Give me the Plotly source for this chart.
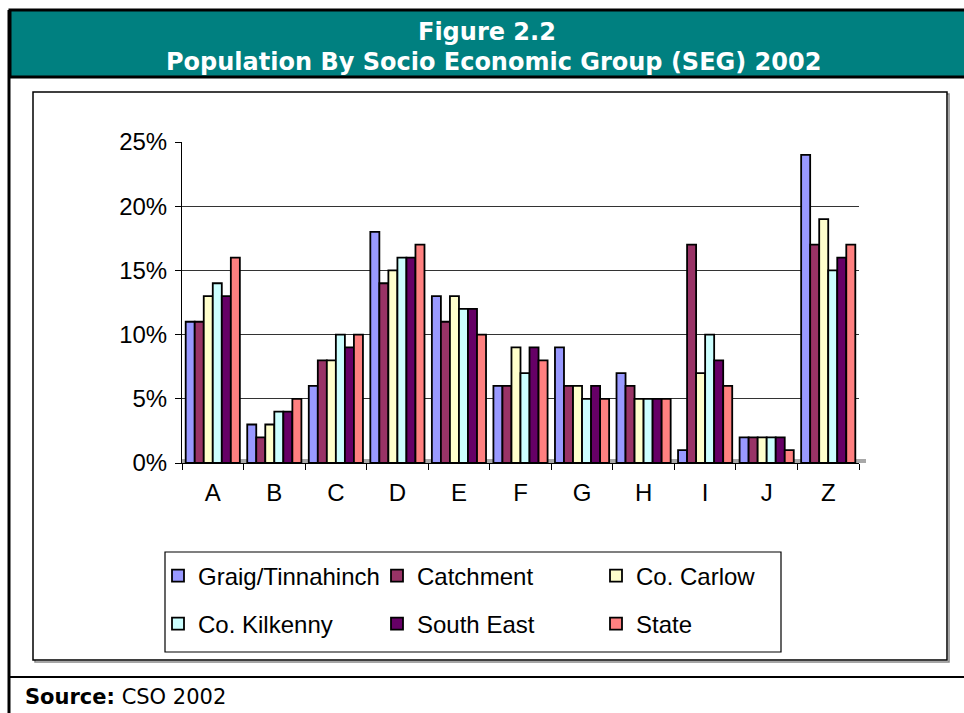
import plotly.graph_objects as go

categories = ["A", "B", "C", "D", "E", "F", "G", "H", "I", "J", "Z"]
graig = [11, 3, 6, 18, 13, 6, 9, 7, 1, 2, 24]
catchment = [11, 2, 8, 14, 11, 6, 6, 6, 17, 2, 17]
carlow = [13, 3, 8, 15, 13, 9, 6, 5, 7, 2, 19]
kilkenny = [14, 4, 10, 16, 12, 7, 5, 5, 10, 2, 15]
south_east = [13, 4, 9, 16, 12, 9, 6, 5, 8, 2, 16]
state = [16, 5, 10, 17, 10, 8, 5, 5, 6, 1, 17]
y_ticks = [0, 5, 10, 15, 20, 25]
y_tick_labels = ["0%", "5%", "10%", "15%", "20%", "25%"]

series = [
    ("Graig/Tinnahinch", graig, "#9999FF", "legend"),
    ("Catchment", catchment, "#993366", "legend"),
    ("Co. Carlow", carlow, "#FFFFCC", "legend"),
    ("Co. Kilkenny", kilkenny, "#CCFFFF", "legend2"),
    ("South East", south_east, "#660066", "legend2"),
    ("State", state, "#FF8080", "legend2"),
]

W, H = 964, 713
L, R, T, B = 182, 859, 142, 463
PW, PH = R - L, B - T


def px(x):
    return (x - L) / PW


def py(y):
    return (B - y) / PH


fig = go.Figure()
for name, vals, col, lg in series:
    fig.add_trace(go.Bar(
        x=categories, y=vals, name=name, legend=lg,
        marker=dict(color=col, line=dict(color="black", width=1.8)),
    ))

shapes = []
# outer frame and title band
shapes.append(dict(type="rect", xref="paper", yref="paper", x0=px(10), x1=px(968), y0=py(10), y1=py(77),
                   fillcolor="#008080", line=dict(color="black", width=3), layer="below"))
shapes.append(dict(type="line", xref="paper", yref="paper", x0=px(9), x1=px(9), y0=py(10), y1=py(715),
                   line=dict(color="black", width=3)))
shapes.append(dict(type="line", xref="paper", yref="paper", x0=px(9), x1=px(968), y0=py(677), y1=py(677),
                   line=dict(color="black", width=2)))
# chart box (shadow + box)
shapes.append(dict(type="rect", xref="paper", yref="paper", x0=px(35), x1=px(949), y0=py(94), y1=py(662),
                   line=dict(color="#888888", width=1.5), layer="below"))
shapes.append(dict(type="rect", xref="paper", yref="paper", x0=px(33), x1=px(947), y0=py(92), y1=py(660),
                   fillcolor="white", line=dict(color="black", width=1.5), layer="below"))
# floor
shapes.append(dict(type="rect", xref="paper", yref="paper", x0=px(182), x1=px(866), y0=py(463), y1=py(459),
                   fillcolor="#A8A8A8", line=dict(width=0), layer="below"))
# legend box
shapes.append(dict(type="rect", xref="paper", yref="paper", x0=px(165), x1=px(781), y0=py(552), y1=py(652),
                   line=dict(color="black", width=1.2)))

annotations = [
    dict(text="<b>Figure 2.2</b>", xref="paper", yref="paper", x=px(487), y=py(32), showarrow=False,
         font=dict(family="DejaVu Sans", size=24, color="white"), xanchor="center", yanchor="middle"),
    dict(text="<b>Population By Socio Economic Group (SEG) 2002</b>", xref="paper", yref="paper",
         x=px(493), y=py(62), showarrow=False,
         font=dict(family="DejaVu Sans", size=24, color="white"), xanchor="center", yanchor="middle"),
    dict(text="<b>Source:</b> CSO 2002", xref="paper", yref="paper", x=px(23), y=py(697), showarrow=False,
         font=dict(family="DejaVu Sans", size=21, color="black"), xanchor="left", yanchor="middle"),
]

legend_common = dict(
    orientation="h", xref="paper", yref="paper", xanchor="left", yanchor="middle",
    font=dict(family="Liberation Sans", size=24, color="black"),
    bgcolor="rgba(0,0,0,0)", borderwidth=0,
    entrywidth=174, entrywidthmode="pixels", itemwidth=30, traceorder="normal",
)

fig.update_layout(
    width=W, height=H,
    margin=dict(l=L, r=W - R, t=T, b=H - B, pad=0),
    paper_bgcolor="white",
    plot_bgcolor="#C0C0C0",
    barmode="group", bargap=0.12, bargroupgap=0.0,
    font=dict(family="Liberation Sans", size=24, color="black"),
    xaxis=dict(type="category", tickson="boundaries", ticks="outside", ticklen=6, tickcolor="black",
               showline=True, linecolor="black", linewidth=1, showgrid=False,
               tickfont=dict(size=24), ticklabelstandoff=8),
    yaxis=dict(range=[0, 25], tickvals=y_ticks, ticktext=y_tick_labels, ticks="outside", ticklen=6,
               tickcolor="black", showline=True, linecolor="black", linewidth=1,
               showgrid=True, gridcolor="#333333", gridwidth=1.2, zeroline=False,
               tickfont=dict(size=24), ticklabelstandoff=3),
    legend=dict(x=px(158), y=py(576), **legend_common),
    legend2=dict(x=px(158), y=py(624), **legend_common),
    shapes=shapes,
    annotations=annotations,
)

fig.write_html("out.html", config={"displayModeBar": False},
               post_script="document.body.style.margin='0';")
